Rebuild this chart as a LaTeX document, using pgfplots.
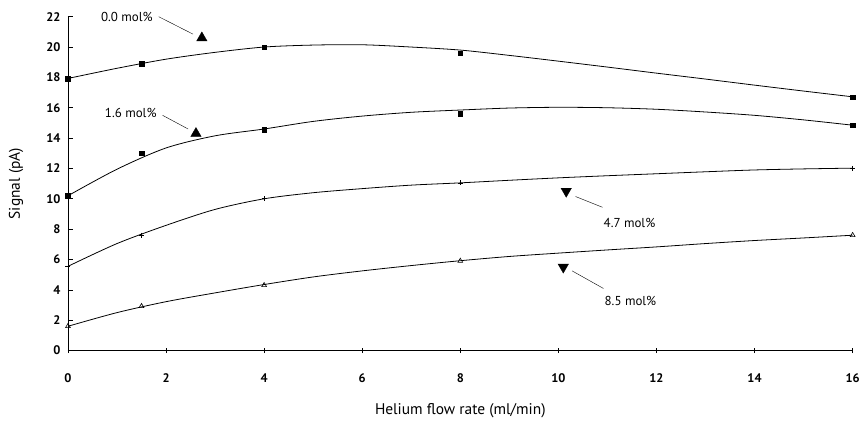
\documentclass[border=0pt]{standalone}
\usepackage{pgfplots}
\pgfplotsset{compat=1.18}
\usepackage{fontspec}
\setmainfont{PT Sans}
\begin{document}
\begin{tikzpicture}
\begin{axis}[
  scale only axis, width=785bp, height=334bp,
  xmin=0, xmax=16, ymin=0, ymax=22,
  axis lines=left, axis line style={-, line width=0.9pt},
  xtick={0,2,...,16}, ytick={0,2,...,22},
  tick style={black, line width=0.6pt},
  xtick align=center, ytick align=inside,
  major tick length=5bp,
  /pgf/number format/assume math mode=true,
  tick label style={font=\fontsize{12.5}{14}\selectfont\bfseries},
  xticklabel style={yshift=-17bp},
  yticklabel style={xshift=-4bp},
  xlabel={Helium flow rate (ml/min)},
  ylabel={Signal (pA)},
  label style={font=\fontsize{15.5}{18}\selectfont},
  xlabel style={at={(axis description cs:0.5,-0.18)}, anchor=center},
  ylabel style={at={(axis description cs:-0.066,0.5)}, anchor=center, rotate=0},
  clip=false,
]
% fitted curves
\addplot[black, line width=0.8pt, smooth, no marks] coordinates {(0,17.93)(1,18.6)(2,19.2)(3,19.65)(4,20.0)(5,20.13)(6,20.15)(7,20.0)(8,19.8)(9,19.45)(10,19.07)(11,18.68)(12,18.28)(13,17.89)(14,17.49)(15,17.1)(16,16.72)};
\addplot[black, line width=0.8pt, smooth, no marks] coordinates {(0,10.2)(1,11.95)(2,13.35)(3,14.15)(4,14.6)(5,15.1)(6,15.45)(7,15.7)(8,15.85)(9,15.98)(10,16.03)(11,16.0)(12,15.9)(13,15.72)(14,15.5)(15,15.2)(16,14.85)};
\addplot[black, line width=0.8pt, smooth, no marks] coordinates {(0,5.55)(1,7.05)(2,8.25)(3,9.3)(4,10.0)(5,10.4)(6,10.67)(7,10.9)(8,11.05)(9,11.22)(10,11.38)(11,11.52)(12,11.65)(13,11.78)(14,11.9)(15,11.97)(16,12.02)};
\addplot[black, line width=0.8pt, smooth, no marks] coordinates {(0,1.6)(1,2.5)(2,3.22)(3,3.8)(4,4.35)(5,4.85)(6,5.25)(7,5.6)(8,5.92)(9,6.2)(10,6.42)(11,6.63)(12,6.83)(13,7.05)(14,7.25)(15,7.42)(16,7.6)};
% measured points
\addplot[only marks, mark=square*, mark size=2.3bp, black] coordinates {(0,17.9)(1.5,18.9)(4,20.0)(8,19.6)(16,16.7)};
\addplot[only marks, mark=square*, mark size=2.3bp, black] coordinates {(0,10.2)(1.5,13.0)(4,14.55)(8,15.6)(16,14.85)};
\addplot[only marks, mark=+, mark size=2.5bp, black, mark options={line width=0.6pt}] coordinates {(0,5.55)(1.5,7.6)(4,10.0)(8,11.05)(16,12.0)};
\addplot[only marks, mark=triangle, mark size=2.8bp, black, mark options={fill=white, line width=0.6pt}] coordinates {(0,1.6)(1.5,2.92)(4,4.3)(8,5.9)(16,7.6)};
% callout markers
\addplot[only marks, mark=triangle*, mark size=6bp, black] coordinates {(2.73,20.6)(2.61,14.3)};
\addplot[only marks, mark=triangle*, mark size=6bp, black, mark options={rotate=180}] coordinates {(10.16,10.5)(10.1,5.5)};
\addplot[black, line width=0.4pt, no marks] coordinates {(1.85,22.0)(2.55,20.85)};
\addplot[black, line width=0.4pt, no marks] coordinates {(1.93,15.5)(2.45,14.6)};
\addplot[black, line width=0.4pt, no marks] coordinates {(10.35,10.15)(10.9,9.44)};
\addplot[black, line width=0.4pt, no marks] coordinates {(10.28,5.25)(10.92,4.09)};
\node[font=\fontsize{13}{15}\selectfont] at (axis cs:1.2,22.0) {0.0 mol\%};
\node[font=\fontsize{13}{15}\selectfont] at (axis cs:1.28,15.64) {1.6 mol\%};
\node[font=\fontsize{13}{15}\selectfont] at (axis cs:11.45,8.38) {4.7 mol\%};
\node[font=\fontsize{13}{15}\selectfont] at (axis cs:11.47,3.3) {8.5 mol\%};
\end{axis}
\path[use as bounding box] (-68bp,-71bp) rectangle (795bp,350.7bp);
\end{tikzpicture}
\end{document}
